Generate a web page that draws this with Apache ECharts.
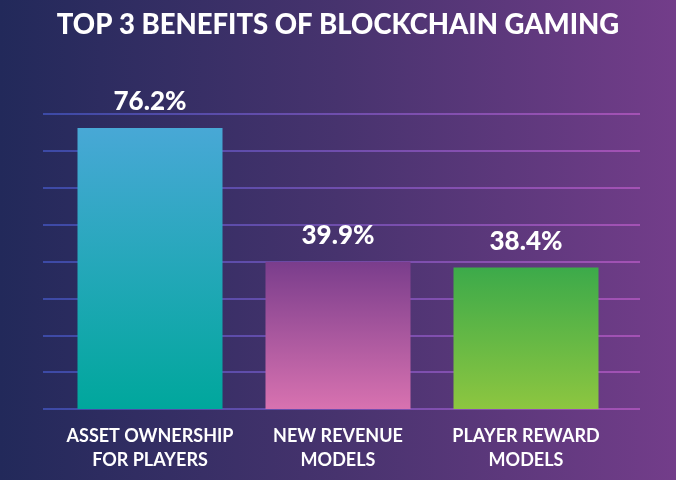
<!DOCTYPE html>
<html>
<head>
<meta charset="utf-8">
<script src="https://cdn.jsdelivr.net/npm/echarts@6/dist/echarts.min.js"></script>
<style>
html,body{margin:0;padding:0;background:#2a2c5e;}
#c{width:676px;height:480px;}
</style>
</head>
<body>
<div id="c"></div>
<script>
var titleText = 'TOP 3 BENEFITS OF BLOCKCHAIN GAMING';
var categories = ['ASSET OWNERSHIP\nFOR PLAYERS', 'NEW REVENUE\nMODELS', 'PLAYER REWARD\nMODELS'];
var values = [76.2, 39.9, 38.4];
var barTopColors = ['#48a8d6', '#7a3d8c', '#3caa4a'];
var barBottomColors = ['#00a79c', '#d872b0', '#8dc640'];
var yMax = 80;
var yInterval = 10;

var chart = echarts.init(document.getElementById('c'));
var grad = function (a, b) {
  return new echarts.graphic.LinearGradient(0, 0, 0, 1, [{offset: 0, color: a}, {offset: 1, color: b}]);
};
var gridLineColor = new echarts.graphic.LinearGradient(43, 0, 640, 0, [
  {offset: 0, color: '#3c4aa6'}, {offset: 1, color: '#a452b4'}
], true);

chart.setOption({
  backgroundColor: new echarts.graphic.LinearGradient(0, 0, 1, 0, [
    {offset: 0, color: '#22295a'}, {offset: 0.5, color: '#47336e'}, {offset: 1, color: '#733d8a'}
  ]),
  title: {
    text: titleText, left: 'center', top: 6,
    textStyle: {color: '#ffffff', fontFamily: 'Lato', fontWeight: 900, fontSize: 27.5}
  },
  grid: [
    {left: 43, right: 36, top: 114, bottom: 71},
    {left: 56, right: 56, top: 114, bottom: 71}
  ],
  xAxis: [
    {gridIndex: 0, type: 'category', data: categories, show: false},
    {gridIndex: 1, type: 'category', data: categories,
      axisLine: {show: false}, axisTick: {show: false},
      axisLabel: {interval: 0, color: '#ffffff', fontFamily: 'Lato', fontWeight: 700, fontSize: 18, lineHeight: 24, margin: 15}}
  ],
  yAxis: [
    {gridIndex: 0, type: 'value', min: 0, max: yMax, interval: yInterval,
      axisLabel: {show: false}, axisLine: {show: false}, axisTick: {show: false},
      splitLine: {show: true, lineStyle: {color: gridLineColor, width: 2}}},
    {gridIndex: 1, type: 'value', min: 0, max: yMax, interval: yInterval, show: false, splitLine: {show: false}}
  ],
  series: [{
    type: 'bar', xAxisIndex: 1, yAxisIndex: 1, barWidth: 145,
    data: values.map(function (v, i) {
      return {value: v, itemStyle: {color: grad(barTopColors[i], barBottomColors[i])}};
    }),
    label: {show: true, position: 'top', distance: 13, color: '#ffffff',
      fontFamily: 'Lato', fontWeight: 900, fontSize: 26,
      formatter: function (p) { return p.value.toFixed(1) + '%'; }}
  }]
});
</script>
</body>
</html>
